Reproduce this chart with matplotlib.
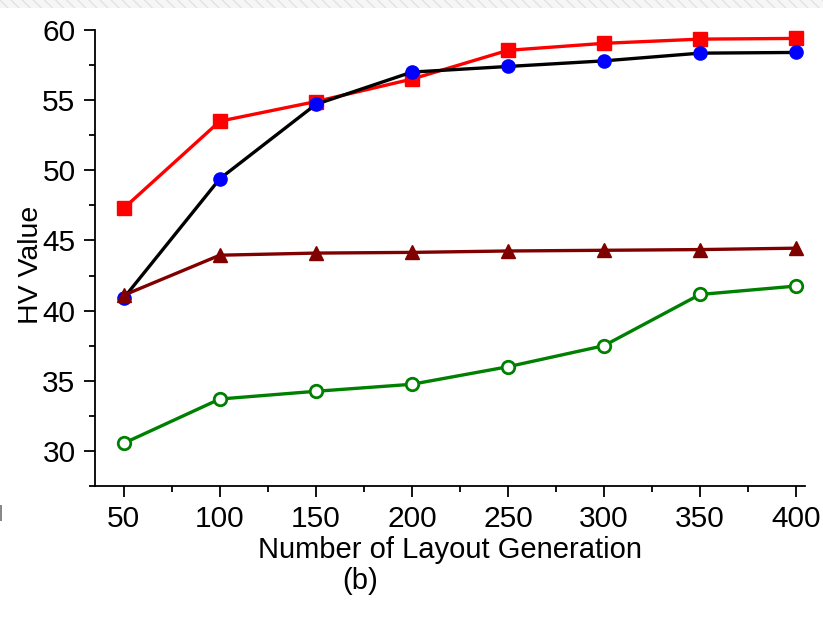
import matplotlib
matplotlib.use("Agg")
import matplotlib.pyplot as plt
from matplotlib.patches import Rectangle
from matplotlib.ticker import MultipleLocator

plt.rcParams["font.family"] = ["Liberation Sans", "DejaVu Sans"]

generations = [50, 100, 150, 200, 250, 300, 350, 400]
hv_red = [47.3, 53.5, 54.9, 56.5, 58.55, 59.05, 59.35, 59.4]
hv_blue = [40.9, 49.4, 54.7, 57.0, 57.4, 57.8, 58.35, 58.4]
hv_darkred = [41.1, 43.95, 44.1, 44.15, 44.25, 44.3, 44.35, 44.45]
hv_green = [30.55, 33.7, 34.25, 34.75, 36.0, 37.5, 41.15, 41.75]

fig = plt.figure(figsize=(8.23, 6.18), dpi=100)
ax = fig.add_axes([95 / 823, 1 - 486 / 618, 710 / 823, 456 / 618])

# hatched strip at the very top of the picture
fig.patches.append(Rectangle((0, 1 - 8 / 618), 1, 8 / 618, transform=fig.transFigure,
                             facecolor="#f6f6f6", edgecolor="#e2e2e2", hatch="\\\\\\",
                             linewidth=0))
fig.patches.append(Rectangle((0, 1 - 521 / 618), 2 / 823, 16 / 618, transform=fig.transFigure,
                             facecolor="#888888", linewidth=0))

ax.plot(generations, hv_green, color="#008000", lw=2.4, marker="o", ms=9,
        mfc="white", mec="#008000", mew=2)
ax.plot(generations, hv_red, color="#ff0000", lw=2.4, marker="s", ms=9.5,
        mfc="#ff0000", mec="#ff0000")
ax.plot(generations, hv_blue, color="black", lw=2.4, marker="o", ms=9.5,
        mfc="#0000ff", mec="#0000ff")
ax.plot(generations, hv_darkred, color="#800000", lw=2.4, marker="^", ms=10.5,
        mfc="#800000", mec="#800000")

ax.set_xlim(35, 404.7)
ax.set_ylim(27.5, 60)
ax.xaxis.set_major_locator(MultipleLocator(50))
ax.xaxis.set_minor_locator(MultipleLocator(25))
ax.yaxis.set_major_locator(MultipleLocator(5))
ax.yaxis.set_minor_locator(MultipleLocator(2.5))
ax.set_xticks([50, 100, 150, 200, 250, 300, 350, 400])

for side in ["top", "right"]:
    ax.spines[side].set_visible(False)
for side in ["left", "bottom"]:
    ax.spines[side].set_linewidth(1.3)

ax.tick_params(which="major", direction="out", length=8, width=1.3, labelsize=21.5, pad=6)
ax.tick_params(which="minor", direction="out", length=4, width=1.3)

ax.set_xlabel("Number of Layout Generation", fontsize=21)
ax.set_ylabel("HV Value", fontsize=20.5)
ax.xaxis.set_label_coords(0.5, -0.11)
ax.yaxis.set_label_coords(-0.072, 0.485)

fig.text(360 / 823, 1 - 581 / 618, "(b)", fontsize=21, ha="center", va="center")

fig.savefig("out.png", dpi=100)
